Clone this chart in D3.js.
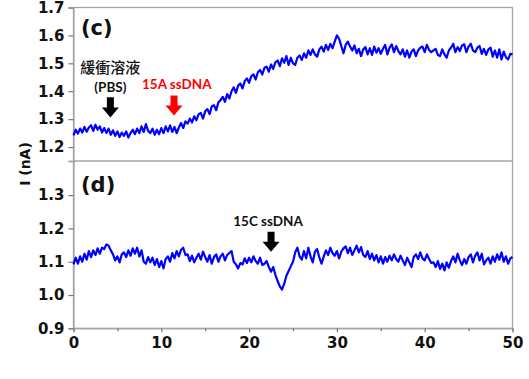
<!DOCTYPE html>
<html><head><meta charset="utf-8">
<script src="https://cdn.jsdelivr.net/npm/d3@7"></script>
<style>body{margin:0;background:#fff}svg{display:block}</style>
</head><body>
<script>
// time axis: 0..50 s, step 0.25 s
const timeStep = 0.25;
const xTicks = [0, 10, 20, 30, 40, 50];
const xMinorTicks = [5, 15, 25, 35, 45];
const yTicksTop = [1.2, 1.3, 1.4, 1.5, 1.6, 1.7];
const yTicksBottom = [0.9, 1.0, 1.1, 1.2, 1.3];
const panelLabels = ["(c)", "(d)"];

// panel (c): buffer then 15A ssDNA
const seriesC = [
1.242,1.262,1.248,1.266, 1.252,1.272,1.255,1.270, 1.278,1.258,1.280,1.262, 1.274,1.252,1.268,1.250,
1.266,1.244,1.260,1.240, 1.256,1.236,1.252,1.240, 1.256,1.234,1.250,1.262, 1.246,1.266,1.250,1.274,
1.254,1.282,1.258,1.250, 1.266,1.244,1.262,1.246, 1.268,1.250,1.274,1.256, 1.278,1.254,1.272,1.250,
1.270,1.286,1.268,1.292, 1.284,1.302,1.288,1.310, 1.296,1.318,1.322,1.302, 1.328,1.336,1.318,1.346,
1.350,1.332,1.360,1.368, 1.380,1.362,1.390,1.374, 1.400,1.414,1.394,1.420, 1.428,1.410,1.436,1.446,
1.430,1.454,1.460,1.442, 1.468,1.476,1.460,1.484, 1.488,1.470,1.496,1.480, 1.504,1.510,1.490,1.518,
1.502,1.526,1.494,1.520, 1.500,1.494,1.520,1.528, 1.512,1.536,1.520,1.546, 1.530,1.550,1.532,1.524,
1.550,1.560,1.542,1.566, 1.548,1.570,1.554,1.578, 1.600,1.588,1.562,1.536, 1.566,1.578,1.560,1.546,
1.564,1.536,1.552,1.526, 1.550,1.558,1.532,1.554, 1.530,1.560,1.538,1.554, 1.534,1.552,1.566,1.532,
1.556,1.568,1.540,1.562, 1.544,1.532,1.550,1.524, 1.546,1.520,1.542,1.550, 1.526,1.546,1.556,1.560,
1.540,1.566,1.548,1.540, 1.546,1.552,1.530,1.526, 1.550,1.532,1.520,1.546, 1.556,1.570,1.540,1.558,
1.544,1.564,1.568,1.540, 1.560,1.570,1.546,1.540, 1.556,1.562,1.534,1.552, 1.530,1.550,1.556,1.524,
1.546,1.520,1.550,1.514, 1.542,1.522,1.514,1.534, 1.532];

// panel (d): 15C ssDNA
const seriesD = [
1.092,1.112,1.094,1.116, 1.100,1.124,1.106,1.132, 1.114,1.134,1.120,1.140, 1.124,1.142,1.138,1.152,
1.148,1.134,1.122,1.104, 1.116,1.098,1.122,1.128, 1.114,1.134,1.118,1.140, 1.124,1.142,1.116,1.134,
1.100,1.094,1.114,1.098, 1.112,1.090,1.108,1.084, 1.102,1.080,1.108,1.116, 1.100,1.126,1.110,1.132,
1.116,1.136,1.142,1.120, 1.122,1.102,1.118,1.098, 1.112,1.124,1.106,1.130, 1.114,1.100,1.120,1.094,
1.114,1.122,1.100,1.116, 1.124,1.104,1.120,1.126, 1.132,1.100,1.092,1.080, 1.096,1.092,1.110,1.096,
1.112,1.098,1.116,1.102, 1.094,1.112,1.090,1.094, 1.102,1.084,1.070,1.084, 1.060,1.042,1.026,1.016,
1.034,1.058,1.072,1.086, 1.100,1.128,1.142,1.116, 1.106,1.132,1.110,1.142, 1.116,1.098,1.130,1.138,
1.112,1.094,1.116,1.134, 1.120,1.142,1.126,1.118, 1.132,1.110,1.130,1.140, 1.146,1.126,1.142,1.120,
1.134,1.148,1.128,1.144, 1.120,1.114,1.132,1.108, 1.124,1.104,1.120,1.098, 1.116,1.094,1.114,1.100,
1.118,1.104,1.122,1.108, 1.100,1.118,1.104,1.090, 1.112,1.098,1.084,1.114, 1.122,1.108,1.128,1.110,
1.104,1.122,1.108,1.096, 1.098,1.084,1.102,1.078, 1.094,1.074,1.098,1.082, 1.102,1.116,1.098,1.124,
1.104,1.090,1.108,1.094, 1.114,1.122,1.098,1.118, 1.128,1.104,1.124,1.092, 1.104,1.112,1.094,1.116,
1.100,1.122,1.106,1.128, 1.100,1.116,1.094,1.110, 1.114];

// annotations
const annotC = [
  {lines:["緩衝溶液","(PBS)"], t:4.2, top:1.378, tip:1.306, color:"#000"},
  {lines:["15A ssDNA"], t:11.45, top:1.385, tip:1.313, color:"#ff0000"}
];
const annotD = [{lines:["15C ssDNA"], t:22.5, top:1.19, tip:1.13, color:"#000"}];

const W = 529, H = 379;
const pLeft = 73.5, pRight = 512.5, pTop = 7.5, pMid = 161, pBottom = 328.3;
const svg = d3.select("body").append("svg").attr("width", W).attr("height", H);

const x = d3.scaleLinear().domain([0, 50]).range([pLeft, pRight]);
const yTop = d3.scaleLinear().domain([1.15, 1.7]).range([pMid, pTop]);
const yBot = d3.scaleLinear().domain([0.9, 1.4025]).range([pBottom, pMid]);

const axisColor = "#a6a6a6";
const tickFont = "'DejaVu Sans', sans-serif";

// frames
svg.append("rect").attr("x", pLeft).attr("y", pTop).attr("width", pRight-pLeft).attr("height", pBottom-pTop)
  .attr("fill", "none").attr("stroke", axisColor).attr("stroke-width", 1.3);
svg.append("line").attr("x1", pLeft).attr("x2", pRight).attr("y1", pMid).attr("y2", pMid)
  .attr("stroke", axisColor).attr("stroke-width", 1.3);

function styleAxis(g){
  g.select(".domain").attr("stroke", axisColor).attr("stroke-width", 1.3);
  g.selectAll(".tick line").attr("stroke", "#777").attr("stroke-width", 1.2);
  g.selectAll(".tick text").attr("font-family", tickFont).attr("font-weight", "bold")
    .attr("font-size", 15).attr("fill", "#111");
}

const gyT = svg.append("g").attr("transform", `translate(${pLeft},0)`)
  .call(d3.axisLeft(yTop).tickValues(yTicksTop).tickFormat(d3.format(".1f")).tickSize(5).tickPadding(4));
styleAxis(gyT);
const gyB = svg.append("g").attr("transform", `translate(${pLeft},0)`)
  .call(d3.axisLeft(yBot).tickValues(yTicksBottom).tickFormat(d3.format(".1f")).tickSize(5).tickPadding(4));
styleAxis(gyB);

const gx = svg.append("g").attr("transform", `translate(0,${pBottom})`)
  .call(d3.axisBottom(x).tickValues(xTicks).tickFormat(d3.format("d")).tickSize(4).tickPadding(5));
styleAxis(gx);
const gxm = svg.append("g").attr("transform", `translate(0,${pBottom})`)
  .call(d3.axisBottom(x).tickValues(xMinorTicks).tickFormat("").tickSize(3));
styleAxis(gxm);
gxm.select(".domain").remove();

// y title
svg.append("text").attr("transform", `translate(30,${pMid+3}) rotate(-90)`)
  .attr("text-anchor", "middle").attr("font-family", tickFont).attr("font-weight", "bold")
  .attr("font-size", 14).attr("fill", "#111").text("I (nA)");

// lines
const lineC = d3.line().x((d,i)=>x(i*timeStep)).y(d=>yTop(d));
const lineD = d3.line().x((d,i)=>x(i*timeStep)).y(d=>yBot(d));
svg.append("path").datum(seriesC).attr("d", lineC).attr("fill","none")
  .attr("stroke","#0000ff").attr("stroke-width",2.2).attr("stroke-linejoin","round");
svg.append("path").datum(seriesD).attr("d", lineD).attr("fill","none")
  .attr("stroke","#0000ff").attr("stroke-width",2.2).attr("stroke-linejoin","round");

// panel labels
svg.append("text").attr("x", 81).attr("y", 35).attr("font-family", tickFont).attr("font-weight","bold")
  .attr("font-size", 21).attr("fill","#111").text(panelLabels[0]);
svg.append("text").attr("x", 81).attr("y", 192).attr("font-family", tickFont).attr("font-weight","bold")
  .attr("font-size", 21).attr("fill","#111").text(panelLabels[1]);

function arrow(cx, y0, y1, color){
  const h = y1 - y0, hw = 8.5, sw = 3.5, headH = h*0.5;
  const p = d3.path();
  p.moveTo(cx - sw, y0); p.lineTo(cx + sw, y0); p.lineTo(cx + sw, y1 - headH);
  p.lineTo(cx + hw, y1 - headH); p.lineTo(cx, y1); p.lineTo(cx - hw, y1 - headH);
  p.lineTo(cx - sw, y1 - headH); p.closePath();
  svg.append("path").attr("d", p.toString()).attr("fill", color);
}

// annotations (c)
const a0 = annotC[0];
arrow(x(a0.t), yTop(a0.top), yTop(a0.tip), a0.color);
svg.append("text").attr("x", x(a0.t)).attr("y", yTop(a0.top) - 24).attr("text-anchor","middle")
  .attr("font-family","'Noto Sans CJK TC', sans-serif").attr("font-weight",500).attr("font-size",15).attr("fill","#111").text(a0.lines[0]);
svg.append("text").attr("x", x(a0.t)).attr("y", yTop(a0.top) - 5).attr("text-anchor","middle")
  .attr("font-family","Lato, sans-serif").attr("font-weight","bold").attr("font-size",13.5).attr("fill","#111").text(a0.lines[1]);
const a1 = annotC[1];
arrow(x(a1.t), yTop(a1.top), yTop(a1.tip), a1.color);
svg.append("text").attr("x", 142).attr("y", yTop(a1.top) - 6)
  .attr("font-family","Lato, sans-serif").attr("font-weight","bold").attr("font-size",13.5).attr("fill",a1.color).text(a1.lines[0]);
// annotation (d)
const a2 = annotD[0];
arrow(x(a2.t), yBot(a2.top), yBot(a2.tip), a2.color);
svg.append("text").attr("x", x(a2.t) - 3).attr("y", yBot(a2.top) - 6).attr("text-anchor","middle")
  .attr("font-family","Lato, sans-serif").attr("font-weight","bold").attr("font-size",13.5).attr("fill","#111").text(a2.lines[0]);
</script>
</body></html>
